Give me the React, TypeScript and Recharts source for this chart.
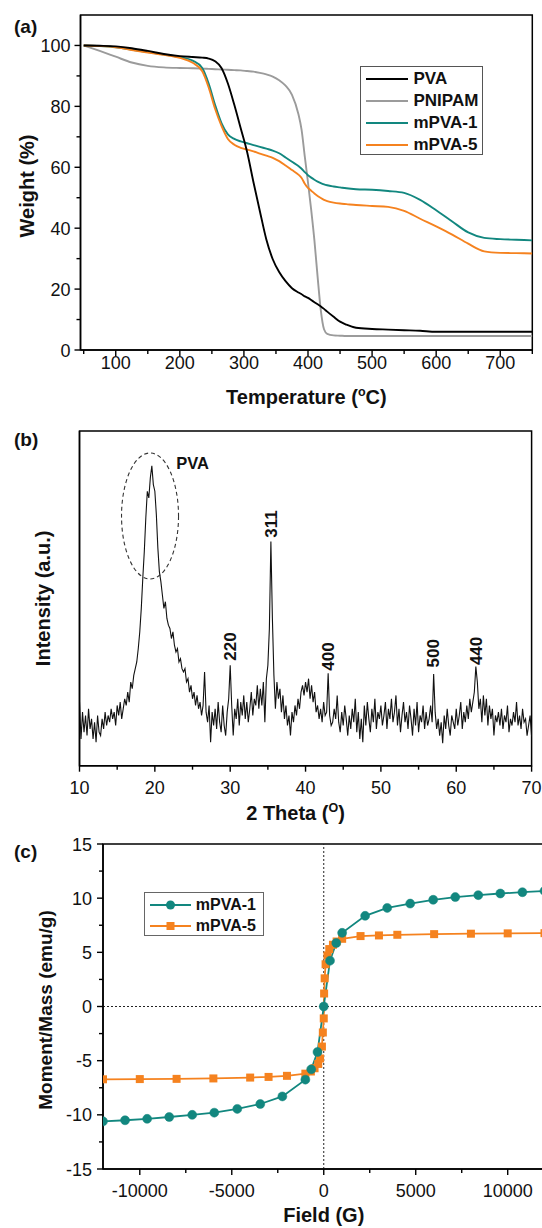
import {
  LineChart,
  Line,
  XAxis,
  YAxis,
  Label,
  Legend,
  ReferenceArea,
  ReferenceLine,
  ReferenceDot
} from "recharts";

const FONT = "'Liberation Sans', Arial, Helvetica, sans-serif";
const TEAL = "#12877f";
const ORANGE = "#f5821f";
const GREY = "#9b9b9b";

// ---------- (a) TGA ----------
const temperature = [
  50, 75, 100, 125, 150, 175, 200,
  220, 235, 245, 255, 265, 275, 285, 295, 305, 315,
  325, 335, 345, 355, 365, 375, 385,
  390, 395, 400, 405, 410, 415, 420, 425, 430,
  440, 450, 460, 475,
  500, 525, 550, 575, 600, 625, 650, 675, 700, 725, 750
];
const wPVA = [
  100, 99.9, 99.7, 99.1, 98.2, 97.2, 96.5,
  96.2, 96.0, 95.7, 94.8, 92.6, 87.5, 80.5, 72.8, 65.0, 55.0,
  45.5, 36.3, 29.8, 25.6, 22.6, 20.3, 18.9,
  18.3, 17.6, 17.1, 16.4, 15.7, 15.0, 14.3, 13.5, 12.6,
  10.9, 9.3, 8.3, 7.3,
  6.9, 6.7, 6.5, 6.3, 6.0, 6.0, 6.0, 6.0, 6.0, 6.0, 6.0
];
const wPNIPAM = [
  100, 98.2, 96.3, 94.4, 93.3, 92.8, 92.6,
  92.5, 92.4, 92.3, 92.2, 92.1, 92.0, 91.9, 91.8, 91.6, 91.4,
  91.0, 90.5, 89.8, 88.6, 86.8, 83.8, 77.5,
  72.3, 63.5, 55.0, 46.0, 36.0, 24.0, 13.0, 6.8, 5.3,
  4.8, 4.7, 4.6, 4.6,
  4.6, 4.6, 4.6, 4.6, 4.6, 4.6, 4.6, 4.6, 4.6, 4.6, 4.6
];
const wMPVA1 = [
  100, 99.8, 99.4, 98.6, 97.8, 97.0, 96.2,
  95.0, 92.6, 87.5, 80.5, 74.5, 70.8, 69.3, 68.5, 67.9, 67.3,
  66.7, 66.1, 65.5, 64.6, 63.2, 61.8, 60.4,
  59.5, 58.4, 57.4, 56.6, 55.9, 55.3, 54.8, 54.4, 54.1,
  53.7, 53.4, 53.1, 52.8,
  52.6, 52.2, 51.6, 49.3, 45.9, 42.2, 38.6, 36.8, 36.4, 36.2, 36.0
];
const wMPVA5 = [
  100, 99.8, 99.4, 98.5, 97.7, 96.9, 95.9,
  94.3, 91.5, 86.2, 79.2, 73.6, 69.3, 67.4, 66.4, 65.8, 65.2,
  64.5, 63.8, 63.1, 62.0, 60.6, 59.1, 57.6,
  56.5, 54.6, 53.2, 52.3, 51.4, 50.6, 49.9, 49.3, 48.9,
  48.4, 48.1, 47.9, 47.6,
  47.3, 47.0, 45.7, 43.1, 40.6, 37.9, 34.9, 32.4, 31.9, 31.8, 31.7
];
const tgaXTicks = [50, 100, 150, 200, 250, 300, 350, 400, 450, 500, 550, 600, 650, 700, 750];
const tgaXLabels = [100, 200, 300, 400, 500, 600, 700];
const tgaYTicks = [0, 10, 20, 30, 40, 50, 60, 70, 80, 90, 100];
const tgaYLabels = [0, 20, 40, 60, 80, 100];

const tgaRows = temperature.map((t, i) => ({
  t,
  pva: wPVA[i],
  pnipam: wPNIPAM[i],
  m1: wMPVA1[i],
  m5: wMPVA5[i]
}));

const tgaSeries = [
  { key: "pva", name: "PVA", color: "#000" },
  { key: "pnipam", name: "PNIPAM", color: GREY },
  { key: "m1", name: "mPVA-1", color: TEAL },
  { key: "m5", name: "mPVA-5", color: ORANGE }
];

// ---------- (b) XRD, 10..70 deg, 0.2 deg step ----------
const xrdIntensity = [
  19, 8, 16, 10, 15, 9, 17, 11, 14, 8,
  13, 7, 15, 10, 9, 14, 11, 16, 12, 15,
  13, 17, 14, 16, 12, 18, 15, 19, 14, 17,
  20, 18, 22, 19, 25, 23, 27, 29, 31, 35,
  40, 47, 56, 64, 74, 82, 80, 86, 89.6, 84,
  82, 75, 65, 58, 55, 51, 47, 49, 44, 42,
  41, 38, 40, 36, 34, 35, 31, 32, 29, 28,
  29, 25, 26, 22, 24, 20, 22, 18, 21, 17,
  19, 15, 18, 28, 16, 13, 18, 7, 16, 12,
  17, 11, 19, 13, 10, 18, 12, 9, 16, 20,
  30, 18, 9, 17, 14, 20, 12, 19, 15, 21,
  14, 19, 13, 17, 22, 15, 20, 18, 24, 17,
  23, 18, 25, 13, 26, 30, 41, 67, 44, 27,
  17, 25, 20, 23, 16, 21, 14, 18, 12, 15,
  9, 16, 13, 18, 15, 20, 17, 22, 24, 21,
  25, 22, 26, 20, 24, 19, 22, 16, 18, 14,
  17, 13, 19, 15, 16, 27.6, 15, 12, 13, 17,
  14, 21, 13, 10, 16, 12, 18, 14, 9, 15,
  11, 17, 13, 20, 10, 16, 8, 14, 7, 18,
  12, 19, 14, 10, 17, 13, 20, 11, 16, 14,
  18, 12, 15, 19, 11, 17, 14, 20, 13, 16,
  21, 12, 17, 10, 15, 19, 13, 16, 11, 18,
  14, 9, 17, 12, 19, 10, 15, 13, 18, 11,
  16, 12, 14, 18, 13, 27.4, 16, 11, 14, 9,
  13, 6.7, 15, 11, 17, 12, 9, 15, 13, 11,
  17, 12, 15, 19, 11, 16, 13, 18, 14, 20,
  16, 19, 22, 29.6, 25, 17, 20, 13, 21, 15,
  20, 12, 18, 14, 17, 9, 15, 13, 16, 12,
  17, 11, 15, 13, 18, 10, 14, 12, 16, 13,
  19, 12, 15, 11, 17, 13, 14, 9, 12, 15,
  8.7
];
const xrdRows = xrdIntensity.map((v, i) => ({ th: +(10 + i * 0.2).toFixed(1), v }));
const xrdXTicks = [10, 15, 20, 25, 30, 35, 40, 45, 50, 55, 60, 65, 70];
const xrdXLabels = [10, 20, 30, 40, 50, 60, 70];
const peakNames = ["220", "311", "400", "500", "440"];
const peakTheta = [30.1, 35.5, 43.1, 57.0, 62.7];
const peakLabelY = [35.6, 72.2, 32.6, 33.6, 34.3];

// ---------- (c) VSM ----------
const field1 = [
  -12000, -10800, -9600, -8400, -7150, -5950, -4700, -3450, -2250, -1000, -680, -340,
  0, 340, 680, 1000, 2250, 3450, 4700, 5950, 7150, 8400, 9600, 10800, 12000
];
const moment1 = [
  -10.6, -10.5, -10.37, -10.2, -10.0, -9.8, -9.45, -9.0, -8.3, -6.75, -5.8, -4.2,
  0, 4.23, 5.86, 6.8, 8.37, 9.1, 9.5, 9.85, 10.1, 10.28, 10.43, 10.55, 10.67
];
const field5 = [
  -12000, -10000, -8000, -6000, -4000, -3000, -2000, -1000, -700, -500, -300, -200, -100, -50,
  0, 20, 50, 100, 200, 300, 500, 700, 1000, 2000, 3000, 4000, 6000, 8000, 10000, 12000
];
const moment5 = [
  -6.72, -6.7, -6.68, -6.64, -6.56, -6.5, -6.4, -6.2, -6.0, -5.7, -5.3, -4.8, -3.7, -2.4,
  -1.1, 1.2, 2.6, 3.9, 4.7, 5.3, 5.7, 6.0, 6.25, 6.5, 6.56, 6.62, 6.68, 6.72, 6.75, 6.77
];
const vsmXTicks = [-10000, -7500, -5000, -2500, 0, 2500, 5000, 7500, 10000];
const vsmXLabels = [-10000, -5000, 0, 5000, 10000];
const vsmYTicks = [-15, -12.5, -10, -7.5, -5, -2.5, 0, 2.5, 5, 7.5, 10, 12.5, 15];
const vsmYLabels = [-15, -10, -5, 0, 5, 10, 15];

const vsm1 = field1.map((f, i) => ({ f, m: moment1[i] }));
const vsm5 = field5.map((f, i) => ({ f, m: moment5[i] }));

// ---------- helpers ----------
const bottomTick = (labels: number[], gap: number) => (p: any) => {
  const v = p.payload.value;
  const major = labels.includes(v);
  return (
    <g>
      <line x1={p.x} y1={p.y} x2={p.x} y2={p.y + (major ? 6 : 4)} stroke="#000" strokeWidth={1.4} />
      {major && (
        <text x={p.x} y={p.y + gap} textAnchor="middle" fontFamily={FONT} fontSize={18} fill="#111">
          {v}
        </text>
      )}
    </g>
  );
};

const leftTick = (labels: number[], gap: number) => (p: any) => {
  const v = p.payload.value;
  const major = labels.includes(v);
  return (
    <g>
      <line x1={p.x} y1={p.y} x2={p.x - (major ? 6 : 4)} y2={p.y} stroke="#000" strokeWidth={1.4} />
      {major && (
        <text x={p.x - gap} y={p.y + 6.5} textAnchor="end" fontFamily={FONT} fontSize={18} fill="#111">
          {v}
        </text>
      )}
    </g>
  );
};

const xTitle = (text: string, dy: number, dx = 0, sup?: string, after?: string) => (p: any) => {
  const { x, y, width } = p.viewBox;
  return (
    <text x={x + width / 2 + dx} y={y + dy} textAnchor="middle" fontFamily={FONT} fontWeight="bold" fontSize={20} fill="#111">
      {text}
      {sup && <tspan dy={-8} fontSize={12.5}>{sup}</tspan>}
      {sup && <tspan dy={8}>{after}</tspan>}
    </text>
  );
};

const yTitle = (text: string, dx: number, dy: number, fs = 20) => (p: any) => {
  const { x, y, height, width } = p.viewBox;
  const bx = x + width - dx;
  const cy = y + height / 2 + dy;
  return (
    <text x={bx} y={cy} transform={`rotate(-90 ${bx} ${cy})`} textAnchor="middle" fontFamily={FONT} fontWeight="bold" fontSize={fs} fill="#111">
      {text}
    </text>
  );
};

const axisLine = { stroke: "#000", strokeWidth: 1.5 };

const panelLetter = (txt: string, top: number) => (
  <div style={{ position: "absolute", left: 14, top, fontFamily: FONT, fontWeight: "bold", fontSize: 19, lineHeight: "19px", color: "#111" }}>
    {txt}
  </div>
);

const TgaLegend = () => (
  <div style={{ width: 123.5, height: 89.3, boxSizing: "border-box", border: "1.5px solid #555", background: "#fff", paddingTop: 1 }}>
    {tgaSeries.map((s) => (
      <div key={s.key} style={{ display: "flex", alignItems: "center", height: 22.2 }}>
        <svg width={52} height={10} style={{ marginLeft: 5 }}>
          <line x1={0} y1={5} x2={42} y2={5} stroke={s.color} strokeWidth={2} />
        </svg>
        <span style={{ fontFamily: FONT, fontWeight: "bold", fontSize: 17, color: "#111", marginLeft: -4 }}>{s.name}</span>
      </div>
    ))}
  </div>
);

const VsmLegend = () => (
  <div style={{ width: 120, height: 44.3, boxSizing: "border-box", border: "1.5px solid #666", background: "#fff", paddingTop: 1.5 }}>
    {[
      { name: "mPVA-1", color: TEAL, sq: false },
      { name: "mPVA-5", color: ORANGE, sq: true }
    ].map((s) => (
      <div key={s.name} style={{ display: "flex", alignItems: "center", height: 21 }}>
        <svg width={46} height={12} style={{ marginLeft: 5 }}>
          <line x1={0} y1={6} x2={41} y2={6} stroke={s.color} strokeWidth={2} />
          {s.sq ? (
            <rect x={16.5} y={2} width={8} height={8} fill={s.color} />
          ) : (
            <circle cx={20.5} cy={6} r={4.5} fill={s.color} />
          )}
        </svg>
        <span style={{ fontFamily: FONT, fontWeight: "bold", fontSize: 16, color: "#111" }}>{s.name}</span>
      </div>
    ))}
  </div>
);

const squareDot = (p: any) => (
  <rect key={`sq-${p.index}`} x={p.cx - 4} y={p.cy - 4} width={8} height={8} fill={ORANGE} />
);

export default function App() {
  return (
    <div style={{ position: "absolute", left: 0, top: 0, width: 542, height: 1228, overflow: "hidden", background: "#fff" }}>
      {/* (a) */}
      <div style={{ position: "absolute", left: 0, top: 0 }}>
        <LineChart width={542} height={420} data={tgaRows} margin={{ top: 15, right: 9.7, bottom: 69, left: 79.5 }}>
          <XAxis
            type="number"
            dataKey="t"
            domain={[45, 750]}
            allowDataOverflow
            ticks={tgaXTicks}
            interval={0}
            height={1}
            tickSize={0}
            tickMargin={0}
            tickLine={false}
            axisLine={axisLine}
            tick={bottomTick(tgaXLabels, 18.5)}
          >
            <Label content={xTitle("Temperature (", 54, 0, "o", "C)")} />
          </XAxis>
          <YAxis
            type="number"
            domain={[0, 110]}
            allowDataOverflow
            ticks={tgaYTicks}
            interval={0}
            width={1}
            tickSize={0}
            tickMargin={0}
            tickLine={false}
            axisLine={axisLine}
            tick={leftTick(tgaYLabels, 10)}
          >
            <Label content={yTitle("Weight (%)", 47, 3.5)} />
          </YAxis>
          <ReferenceArea x1={45} x2={750} y1={0} y2={110} fill="none" stroke="#000" strokeWidth={1.5} />
          <Line dataKey="pnipam" stroke={GREY} strokeWidth={1.9} dot={false} type="monotone" isAnimationActive={false} />
          <Line dataKey="m1" stroke={TEAL} strokeWidth={1.9} dot={false} type="monotone" isAnimationActive={false} />
          <Line dataKey="m5" stroke={ORANGE} strokeWidth={1.9} dot={false} type="monotone" isAnimationActive={false} />
          <Line dataKey="pva" stroke="#000" strokeWidth={1.9} dot={false} type="monotone" isAnimationActive={false} />
          <Legend
            layout="horizontal"
            verticalAlign="middle"
            align="center"
            content={() => <TgaLegend />}
            wrapperStyle={{ left: 359.5, top: 65.7, width: 123.5, height: 89.3 }}
          />
        </LineChart>
      </div>
      {panelLetter("(a)", 16.5)}

      {/* (b) */}
      <div style={{ position: "absolute", left: 0, top: 400 }}>
        <LineChart width={542} height={430} data={xrdRows} margin={{ top: 31, right: 10.4, bottom: 63.3, left: 78.5 }}>
          <XAxis
            type="number"
            dataKey="th"
            domain={[10, 70]}
            allowDataOverflow
            ticks={xrdXTicks}
            interval={0}
            height={1}
            tickSize={0}
            tickMargin={0}
            tickLine={false}
            axisLine={axisLine}
            tick={bottomTick(xrdXLabels, 28)}
          >
            <Label content={xTitle("2 Theta (", 54.3, -10, "O", ")")} />
          </XAxis>
          <YAxis type="number" domain={[0, 100]} allowDataOverflow width={1} tick={false} tickLine={false} axisLine={axisLine}>
            <Label content={yTitle("Intensity (a.u.)", 29, 0)} />
          </YAxis>
          <ReferenceArea x1={10} x2={70} y1={0} y2={100} fill="none" stroke="#000" strokeWidth={1.5} />
          <Line dataKey="v" stroke="#111" strokeWidth={1.1} dot={false} type="linear" isAnimationActive={false} />
          <ReferenceDot
            x={19.36}
            y={74.6}
            shape={(p: any) => (
              <ellipse cx={p.cx} cy={p.cy} rx={28.5} ry={63} fill="none" stroke="#333" strokeWidth={1.1} strokeDasharray="4 3" />
            )}
          />
          <ReferenceDot
            x={25.0}
            y={90.3}
            shape={(p: any) => (
              <text x={p.cx} y={p.cy} textAnchor="middle" dominantBaseline="central" fontFamily={FONT} fontWeight="bold" fontSize={16.5} fill="#111">
                PVA
              </text>
            )}
          />
          {peakNames.map((n, i) => (
            <ReferenceDot
              key={n}
              x={peakTheta[i]}
              y={peakLabelY[i]}
              shape={(p: any) => (
                <text
                  x={p.cx}
                  y={p.cy}
                  transform={`rotate(-90 ${p.cx} ${p.cy})`}
                  textAnchor="middle"
                  dominantBaseline="central"
                  fontFamily={FONT}
                  fontWeight="bold"
                  fontSize={17}
                  fill="#111"
                >
                  {n}
                </text>
              )}
            />
          ))}
        </LineChart>
      </div>
      {panelLetter("(b)", 430)}

      {/* (c) */}
      <div style={{ position: "absolute", left: 0, top: 800 }}>
        <LineChart width={560} height={428} margin={{ top: 44, right: 15.5, bottom: 58, left: 102 }}>
          <XAxis
            type="number"
            dataKey="f"
            domain={[-12000, 12000]}
            allowDataOverflow
            ticks={vsmXTicks}
            interval={0}
            height={1}
            tickSize={0}
            tickMargin={0}
            tickLine={false}
            axisLine={axisLine}
            tick={bottomTick(vsmXLabels, 27.7)}
          >
            <Label content={xTitle("Field (G)", 53)} />
          </XAxis>
          <YAxis
            type="number"
            domain={[-15, 15]}
            allowDataOverflow
            ticks={vsmYTicks}
            interval={0}
            width={1}
            tickSize={0}
            tickMargin={0}
            tickLine={false}
            axisLine={axisLine}
            tick={leftTick(vsmYLabels, 11)}
          >
            <Label content={yTitle("Moment/Mass (emu/g)", 51.4, 3.5, 19)} />
          </YAxis>
          <ReferenceArea x1={-12000} x2={12000} y1={-15} y2={15} fill="none" stroke="#000" strokeWidth={1.5} />
          <ReferenceLine x={0} stroke="#222" strokeWidth={1} strokeDasharray="2 2" />
          <ReferenceLine y={0} stroke="#222" strokeWidth={1} strokeDasharray="2 2" />
          <Line data={vsm5} dataKey="m" stroke={ORANGE} strokeWidth={1.8} dot={squareDot} type="linear" isAnimationActive={false} />
          <Line
            data={vsm1}
            dataKey="m"
            stroke={TEAL}
            strokeWidth={1.8}
            dot={{ r: 4.5, fill: TEAL, stroke: TEAL, strokeWidth: 0.5 }}
            type="linear"
            isAnimationActive={false}
          />
          <Legend
            layout="horizontal"
            verticalAlign="middle"
            align="center"
            content={() => <VsmLegend />}
            wrapperStyle={{ left: 143.8, top: 91.7, width: 120, height: 44.3 }}
          />
        </LineChart>
      </div>
      {panelLetter("(c)", 842)}
    </div>
  );
}
